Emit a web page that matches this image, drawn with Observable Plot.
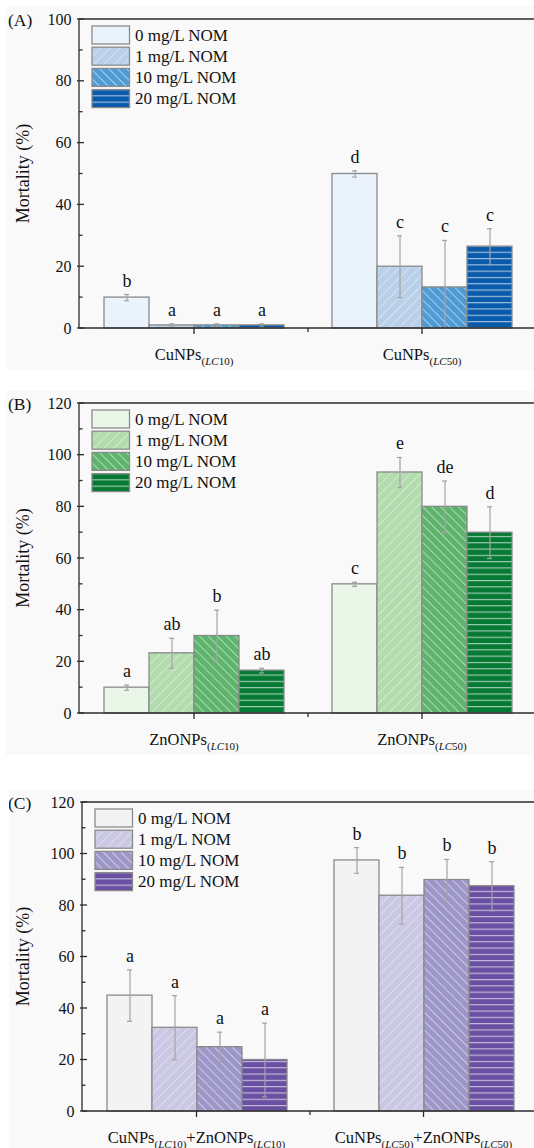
<!DOCTYPE html>
<html><head><meta charset="utf-8">
<script src="https://cdn.jsdelivr.net/npm/d3@7"></script>
<script src="https://cdn.jsdelivr.net/npm/@observablehq/plot@0.6"></script>
<style>
body{margin:0;background:#fff;width:534px;height:1148px;overflow:hidden;position:relative;font-family:"Liberation Serif",serif;}
.panel{position:absolute;background:#f9f9f9;overflow:hidden;}
.panel svg{overflow:visible;display:block;}
.panel svg text{font-family:"Liberation Serif","Times New Roman",serif !important;}
</style></head><body>
<div id="panelA" class="panel"></div>
<div id="panelB" class="panel"></div>
<div id="panelC" class="panel"></div>
<script>
// ---------- data ----------
const levels = ["0 mg/L NOM", "1 mg/L NOM", "10 mg/L NOM", "20 mg/L NOM"];

// Panel A: CuNPs
const groupsA = ["CuNPs|LC|10", "CuNPs|LC|50"];
const meanA = [[10, 1, 1, 1], [50, 20, 13.3, 26.5]];
const errA = [[1, 0.5, 0.5, 0.5], [1, 10, 15.2, 5.8]];
const lettersA = [["b", "a", "a", "a"], ["d", "c", "c", "c"]];
const yTicksA = [0, 20, 40, 60, 80, 100];
const yMinorA = [10, 30, 50, 70, 90];

// Panel B: ZnONPs
const groupsB = ["ZnONPs|LC|10", "ZnONPs|LC|50"];
const meanB = [[10, 23.3, 30, 16.6], [50, 93.3, 80, 70]];
const errB = [[1, 5.8, 10, 0.9], [0.8, 5.8, 10, 10]];
const lettersB = [["a", "ab", "b", "ab"], ["c", "e", "de", "d"]];
const yTicksB = [0, 20, 40, 60, 80, 100, 120];
const yMinorB = [10, 30, 50, 70, 90, 110];

// Panel C: CuNPs + ZnONPs
const groupsC = ["CuNPs|LC|10|+ZnONPs|LC|10", "CuNPs|LC|50|+ZnONPs|LC|50"];
const meanC = [[45, 32.5, 25, 20], [97.5, 83.8, 89.9, 87.5]];
const errC = [[10, 12.5, 5.8, 14.3], [5, 11, 8, 9.5]];
const lettersC = [["a", "a", "a", "a"], ["b", "b", "b", "b"]];
const yTicksC = [0, 20, 40, 60, 80, 100, 120];
const yMinorC = [10, 30, 50, 70, 90, 110];

// colours per NOM level
const colorsA = ["#eaf2fc", "#b9d0e8", "#4f9cd5", "#0a5bab"];
const colorsB = ["#eaf6e8", "#b2dcae", "#5db46a", "#067a34"];
const colorsC = ["#f3f3f3", "#cac8e3", "#9c97c8", "#6a50a2"];

// ---------- layout ----------
const panels = [
  {id: "A", tag: "(A)", groups: groupsA, mean: meanA, err: errA, letters: lettersA, ticks: yTicksA, minor: yMinorA, colors: colorsA,
   left: 6, top: 6, width: 528, height: 364, mt: 13, mb: 42, ml: 73, mr: -2},
  {id: "B", tag: "(B)", groups: groupsB, mean: meanB, err: errB, letters: lettersB, ticks: yTicksB, minor: yMinorB, colors: colorsB,
   left: 6, top: 391, width: 528, height: 364, mt: 12, mb: 42, ml: 73, mr: -2},
  {id: "C", tag: "(C)", groups: groupsC, mean: meanC, err: errC, letters: lettersC, ticks: yTicksC, minor: yMinorC, colors: colorsC,
   left: 9, top: 790, width: 525, height: 364, mt: 12, mb: 43, ml: 73, mr: -3}
];

const font = "Liberation Serif";

function addPatterns(defs, id, colors) {
  // level 0 : solid
  defs.append("pattern").attr("id", `pat${id}0`).attr("patternUnits", "userSpaceOnUse")
    .attr("width", 8).attr("height", 8)
    .append("rect").attr("width", 8).attr("height", 8).attr("fill", colors[0]);
  // level 1 : "/" hatch ; level 2 : "\" hatch
  [[1, 45, 7, 0.5], [2, -45, 6.3, 0.65]].forEach(([i, rot, s, op]) => {
    const p = defs.append("pattern").attr("id", `pat${id}${i}`).attr("patternUnits", "userSpaceOnUse")
      .attr("width", s).attr("height", s).attr("patternTransform", `rotate(${rot})`);
    p.append("rect").attr("width", s).attr("height", s).attr("fill", colors[i]);
    p.append("line").attr("x1", 0.5).attr("x2", 0.5).attr("y1", 0).attr("y2", s)
      .attr("stroke", "#fff").attr("stroke-opacity", op).attr("stroke-width", 0.75);
  });
  // level 3 : horizontal lines
  const p = defs.append("pattern").attr("id", `pat${id}3`).attr("patternUnits", "userSpaceOnUse")
    .attr("width", 10).attr("height", 6.3);
  p.append("rect").attr("width", 10).attr("height", 6.3).attr("fill", colors[3]);
  p.append("line").attr("x1", 0).attr("x2", 10).attr("y1", 0.6).attr("y2", 0.6)
    .attr("stroke", "#fff").attr("stroke-opacity", 0.7).attr("stroke-width", 1);
}

function groupLabel(sel, label) {
  // label format: base|italic-sub|upright-sub|base|italic-sub|upright-sub ...
  const parts = label.split("|");
  for (let i = 0; i < parts.length; i += 3) {
    sel.append("tspan").attr("font-size", 16.5).attr("dy", i === 0 ? 0 : -5).text(parts[i]);
    if (i + 1 < parts.length) {
      sel.append("tspan").attr("font-size", 11).attr("dy", 5).text("(");
      sel.append("tspan").attr("font-size", 11).attr("font-style", "italic").text(parts[i + 1]);
      sel.append("tspan").attr("font-size", 11).text(parts[i + 2] + ")");
    }
  }
}

for (const P of panels) {
  const data = [];
  P.groups.forEach((g, gi) => levels.forEach((l, li) => data.push({
    group: g, level: l, mean: P.mean[gi][li], err: P.err[gi][li], letter: P.letters[gi][li],
    fill: `url(#pat${P.id}${li})`
  })));

  const chart = Plot.plot({
    width: P.width, height: P.height,
    marginTop: P.mt, marginBottom: P.mb, marginLeft: P.ml, marginRight: P.mr,
    style: {background: "transparent", fontFamily: font, fontSize: "16px", color: "#111", overflow: "visible"},
    fx: {domain: P.groups, padding: 0, axis: null},
    x: {domain: levels, paddingInner: 0, paddingOuter: 0.48, axis: null},
    y: {domain: [0, P.ticks[P.ticks.length - 1]], ticks: P.ticks, tickSize: 0, tickPadding: 9, label: null, tickFormat: d => String(d)},
    color: {type: "identity"},
    marks: [
      Plot.barY(data, {fx: "group", x: "level", y: "mean", fill: "fill", stroke: "#8a8a8a", strokeWidth: 1.3}),
      Plot.ruleX(data, {fx: "group", x: "level", y1: d => Math.max(0, d.mean - d.err), y2: d => d.mean + d.err, stroke: "#a3a3a3", strokeWidth: 1.2}),
      Plot.tickY(data, {fx: "group", x: "level", y: d => d.mean + d.err, insetLeft: 20, insetRight: 20, stroke: "#a3a3a3", strokeWidth: 1.2}),
      Plot.tickY(data.filter(d => d.mean - d.err > 0), {fx: "group", x: "level", y: d => d.mean - d.err, insetLeft: 20, insetRight: 20, stroke: "#a3a3a3", strokeWidth: 1.2}),
      Plot.text(data, {fx: "group", x: "level", y: d => d.mean + d.err, text: "letter", lineAnchor: "bottom", dy: -8, fontSize: 18, fill: "#111"})
    ]
  });

  const div = document.getElementById("panel" + P.id);
  Object.assign(div.style, {left: P.left + "px", top: P.top + "px", width: P.width + "px", height: P.height + "px"});
  div.appendChild(chart);

  const svg = d3.select(chart);
  addPatterns(svg.insert("defs", ":first-child"), P.id, P.colors);

  const y = chart.scale("y"), fx = chart.scale("fx");
  const x0 = P.ml, x1 = P.width + 10;
  const yTop = y.apply(P.ticks[P.ticks.length - 1]), yBot = y.apply(0);
  const deco = svg.append("g").attr("stroke", "#2b2b2b").attr("stroke-width", 1.3).attr("fill", "none");
  deco.append("line").attr("x1", x0).attr("x2", x0).attr("y1", yTop).attr("y2", yBot);
  deco.append("line").attr("x1", x0).attr("x2", x1).attr("y1", yTop).attr("y2", yTop);
  deco.append("line").attr("x1", x0).attr("x2", x1).attr("y1", yBot).attr("y2", yBot);
  // y ticks
  P.ticks.forEach(t => deco.append("line").attr("x1", x0 - 2).attr("x2", x0 + 5).attr("y1", y.apply(t)).attr("y2", y.apply(t)));
  P.minor.forEach(t => deco.append("line").attr("x1", x0).attr("x2", x0 + 3.5).attr("y1", y.apply(t)).attr("y2", y.apply(t)));
  // x ticks: centre (major) and boundary (minor)
  P.groups.forEach((g, i) => {
    const cx = fx.apply(g) + fx.bandwidth / 2;
    deco.append("line").attr("x1", cx).attr("x2", cx).attr("y1", yBot).attr("y2", yBot + 6);
    if (i > 0) {
      const bx = fx.apply(g);
      deco.append("line").attr("x1", bx).attr("x2", bx).attr("y1", yBot).attr("y2", yBot + 4);
    }
    const t = svg.append("text").attr("x", cx).attr("y", yBot + 32).attr("text-anchor", "middle")
      .attr("fill", "#111");
    groupLabel(t, g);
  });

  // y label
  svg.append("text").attr("transform", `translate(${29 - P.left},${(yTop + yBot) / 2}) rotate(-90)`)
    .attr("text-anchor", "middle").attr("font-size", 18).attr("fill", "#111")
    .text("Mortality (%)");
  // panel tag
  svg.append("text").attr("x", 8 - P.left).attr("y", yTop + 7).attr("text-anchor", "start")
    .attr("font-size", 17.5).attr("fill", "#111").text(P.tag);

  // legend
  const lg = svg.append("g").attr("transform", `translate(${x0 + 13},${yTop + 7})`);
  levels.forEach((l, i) => {
    lg.append("rect").attr("x", 0).attr("y", i * 21.2).attr("width", 37.5).attr("height", 18)
      .attr("fill", `url(#pat${P.id}${i})`).attr("stroke", "#8a8a8a").attr("stroke-width", 1.3);
    lg.append("text").attr("x", 43).attr("y", i * 21.2 + 14.5).attr("text-anchor", "start")
      .attr("font-size", 17).attr("fill", "#111").text(l);
  });
}
</script>
</body></html>
